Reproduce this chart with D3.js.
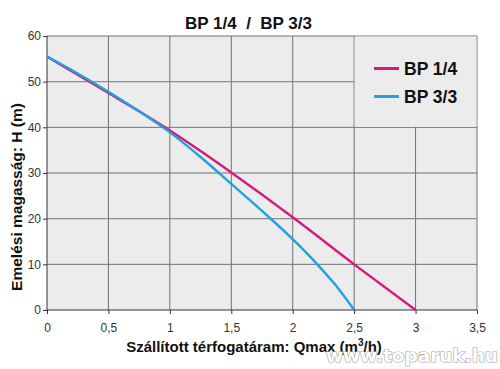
<!DOCTYPE html>
<html>
<head>
<meta charset="utf-8">
<script src="https://cdn.jsdelivr.net/npm/d3@7"></script>
<style>
  html, body { margin: 0; padding: 0; background: #fff; }
  svg { display: block; font-family: "Liberation Sans", Arial, sans-serif; }
</style>
</head>
<body>
<svg id="chart" width="500" height="369"></svg>
<script>
const titleText = "BP 1/4  /  BP 3/3";
const seriesNames = ["BP 1/4", "BP 3/3"];
const seriesColors = ["#d6197c", "#22a2dc"];
const xTicks = [0, 0.5, 1, 1.5, 2, 2.5, 3, 3.5];
const yTicks = [0, 10, 20, 30, 40, 50, 60];
const flowBP14 = [0, 0.25, 0.5, 0.75, 1, 1.25, 1.5, 2, 2.5, 3];
const headBP14 = [55.5, 51.5, 47.5, 43.5, 39.3, 34.8, 30.1, 20.3, 10, 0];
const flowBP33 = [0, 0.25, 0.5, 0.75, 1, 1.25, 1.5, 1.75, 2, 2.2, 2.35, 2.5];
const headBP33 = [55.5, 51.8, 47.8, 43.5, 38.9, 33.5, 27.6, 21.7, 15.5, 10, 5.4, 0];
const yLabel = "Emelési magasság: H (m)";
const watermark = "www.toparuk.hu";

const svg = d3.select("#chart");
const x = d3.scaleLinear().domain([0, 3.5]).range([47, 477]);
const y = d3.scaleLinear().domain([0, 60]).range([310, 36]);
const loc = d3.formatLocale({decimal: ",", thousands: " ", grouping: [3], currency: ["", ""]});
const fmt = v => loc.format("~g")(v);

// plot background
svg.append("rect").attr("x", x(0)).attr("y", y(60))
  .attr("width", x(3.5) - x(0)).attr("height", y(0) - y(60)).attr("fill", "#ececec");

// grid
svg.append("g").selectAll("line").data(xTicks.slice(1)).join("line")
  .attr("x1", d => x(d)).attr("x2", d => x(d)).attr("y1", y(0)).attr("y2", y(60))
  .attr("stroke", "#707070").attr("stroke-width", 1);
svg.append("g").selectAll("line").data(yTicks.slice(1)).join("line")
  .attr("x1", x(0)).attr("x2", x(3.5)).attr("y1", d => y(d)).attr("y2", d => y(d))
  .attr("stroke", d => (d === 20 || d === 50) ? "#8c8c8c" : "#707070")
  .attr("stroke-width", d => (d === 20 || d === 50) ? 1.4 : 1);

// legend box (covers grid)
svg.append("rect").attr("x", x(2.5) + 0.5).attr("y", y(60) + 0.5)
  .attr("width", x(3.5) - x(2.5) - 1).attr("height", y(40) - y(60) - 1).attr("fill", "#ececec");

// axes
const xAxis = svg.append("g").attr("transform", `translate(0,${y(0)})`)
  .call(d3.axisBottom(x).tickValues(xTicks).tickFormat(fmt).tickSize(4).tickPadding(9));
const yAxis = svg.append("g").attr("transform", `translate(${x(0)},0)`)
  .call(d3.axisLeft(y).tickValues(yTicks).tickFormat(fmt).tickSize(4).tickPadding(2));
[xAxis, yAxis].forEach(a => {
  a.select(".domain").attr("stroke", "#333");
  a.selectAll(".tick line").attr("stroke", "#333");
  a.selectAll(".tick text").attr("fill", "#333").attr("font-size", 12)
    .attr("font-family", "Liberation Sans, Arial, sans-serif");
});
xAxis.select(".domain").attr("d", `M${x(0)},0H${x(3.5)}`);
yAxis.select(".domain").attr("d", `M0,${y(0)}V${y(60)}`);

// series lines
const line = d3.line().x(d => x(d[0])).y(d => y(d[1])).curve(d3.curveMonotoneX);
const series = [
  d3.zip(flowBP14, headBP14),
  d3.zip(flowBP33, headBP33)
];
svg.append("path").datum(series[0]).attr("d", line).attr("fill", "none")
  .attr("stroke", seriesColors[0]).attr("stroke-width", 2.4);
svg.append("path").datum(series[1]).attr("d", line).attr("fill", "none")
  .attr("stroke", seriesColors[1]).attr("stroke-width", 2.4);

// legend
const lg = svg.append("g");
seriesNames.forEach((n, i) => {
  const yy = 68.5 + i * 28;
  lg.append("line").attr("x1", 374).attr("x2", 399).attr("y1", yy).attr("y2", yy)
    .attr("stroke", seriesColors[i]).attr("stroke-width", 3);
  lg.append("text").attr("x", 404).attr("y", yy + 6.3).text(n)
    .attr("font-size", 17.5).attr("font-weight", "bold").attr("fill", "#111");
});

// title
svg.append("text").attr("x", 248.5).attr("y", 28.5).attr("text-anchor", "middle")
  .attr("font-size", 17).attr("font-weight", "bold").attr("fill", "#111")
  .style("white-space", "pre").text(titleText);

// axis titles
svg.append("text").attr("transform", `translate(21.5,${197}) rotate(-90)`)
  .attr("text-anchor", "middle").attr("font-size", 15.5).attr("font-weight", "bold")
  .attr("fill", "#111").text(yLabel);

const xt = svg.append("text").attr("x", 254).attr("y", 352).attr("text-anchor", "middle")
  .attr("font-size", 15).attr("font-weight", "bold").attr("fill", "#111");
xt.append("tspan").text("Szállított térfogatáram: Qmax (m");
xt.append("tspan").attr("font-size", 10).attr("dy", -6).text("3");
xt.append("tspan").attr("dy", 6).text("/h)");

// watermark
svg.append("text").attr("x", 326).attr("y", 362).attr("textLength", 172)
  .attr("lengthAdjust", "spacingAndGlyphs")
  .attr("font-family", "DejaVu Sans, sans-serif").attr("font-weight", "bold")
  .attr("font-size", 17).attr("fill", "#fff").attr("stroke", "#a8a8a8")
  .attr("stroke-width", 1.2).attr("paint-order", "stroke").text(watermark);
</script>
</body>
</html>
